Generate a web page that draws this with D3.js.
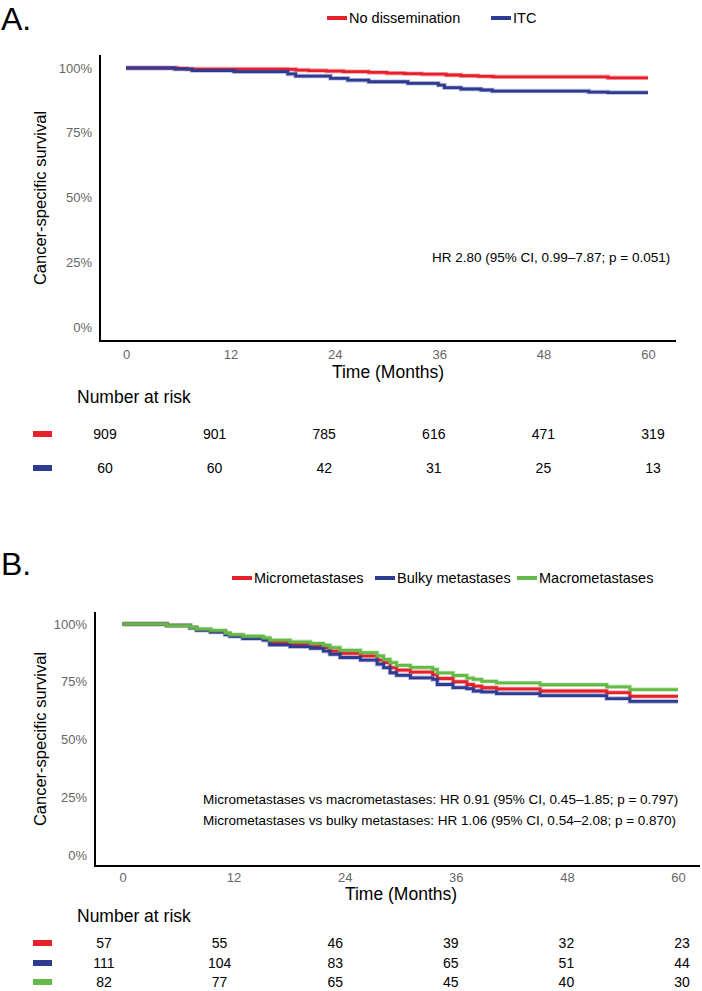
<!DOCTYPE html>
<html>
  <head>
    <title>Cancer-specific survival</title>
    <style>
      body {
        margin: 0px;
        overflow: hidden;
        background: #fff;
      }
      text {
        font-family: "Liberation Sans", Arial, sans-serif;
      }
    </style>
    <script src="https://d3js.org/d3.v7.min.js"></script>
  </head>
  <body>

    <svg width="702" height="991"></svg>

    <script>
      // shared axis values
      const monthTicks = [0, 12, 24, 36, 48, 60];
      const survTicks = [0, 0.25, 0.5, 0.75, 1];

      // panel A: survival steps (months, survival)
      const aGroups = ['No dissemination', 'ITC'];
      const aNoDissTime = [0, 5.9, 7.0, 18.6, 19.5, 21, 23, 25, 27.9, 30, 32, 34, 36.8, 38.5, 40.5, 42.2, 55.4];
      const aNoDissSurv = [1, 0.998, 0.996, 0.995, 0.992, 0.990, 0.988, 0.986, 0.983, 0.980, 0.978, 0.976, 0.973, 0.970, 0.968, 0.966, 0.962];
      const aItcTime = [0, 5.6, 7.6, 12.4, 18.6, 19.5, 23.5, 25.5, 27.9, 32.4, 35.9, 36.6, 38.5, 40.8, 42.1, 53.2, 55.4];
      const aItcSurv = [1, 0.996, 0.990, 0.986, 0.977, 0.969, 0.960, 0.953, 0.947, 0.941, 0.934, 0.924, 0.919, 0.915, 0.911, 0.907, 0.905];
      const aRiskNoDiss = [909, 901, 785, 616, 471, 319];
      const aRiskItc = [60, 60, 42, 31, 25, 13];
      const aNotes = ['HR 2.80 (95% CI, 0.99\u20137.87; p = 0.051)'];

      // panel B
      const bGroups = ['Micrometastases', 'Bulky metastases', 'Macrometastases'];
      const bStepTime = [0, 4.8, 7.3, 8.0, 9.5, 11.1, 11.6, 13.0, 15.2, 15.9, 18.1, 20.3, 21.7, 22.4, 23.5, 25.7,
        27.5, 28.2, 28.9, 29.6, 31.1, 33.5, 34.0, 35.7, 37.2, 37.9, 38.8, 40.4, 45.1, 52.3, 54.8];
      const bMicroSurv = [1, 0.993, 0.985, 0.976, 0.969, 0.958, 0.951, 0.942, 0.935, 0.920, 0.912, 0.906, 0.898, 0.883, 0.873, 0.862,
        0.844, 0.833, 0.811, 0.800, 0.792, 0.781, 0.764, 0.750, 0.738, 0.731, 0.724, 0.719, 0.710, 0.703, 0.687];
      const bBulkySurv = [1, 0.993, 0.983, 0.973, 0.965, 0.954, 0.947, 0.937, 0.930, 0.910, 0.902, 0.895, 0.883, 0.869, 0.855, 0.844,
        0.826, 0.811, 0.789, 0.778, 0.767, 0.760, 0.738, 0.725, 0.720, 0.710, 0.706, 0.699, 0.690, 0.677, 0.665];
      const bMacroSurv = [1, 0.993, 0.986, 0.978, 0.972, 0.961, 0.954, 0.947, 0.940, 0.930, 0.923, 0.916, 0.908, 0.898, 0.886, 0.876,
        0.862, 0.847, 0.833, 0.821, 0.812, 0.803, 0.788, 0.777, 0.766, 0.760, 0.752, 0.745, 0.737, 0.728, 0.716];
      const bRiskMicro = [57, 55, 46, 39, 32, 23];
      const bRiskBulky = [111, 104, 83, 65, 51, 44];
      const bRiskMacro = [82, 77, 65, 45, 40, 30];
      const bNotes = [
        'Micrometastases vs macrometastases: HR 0.91 (95% CI, 0.45\u20131.85; p = 0.797)',
        'Micrometastases vs bulky metastases: HR 1.06 (95% CI, 0.54\u20132.08; p = 0.870)'
      ];

      const colors = { red: '#e8202a', blue: '#2e3b93', green: '#64ba46' };

      const svg = d3.select('svg');

      const panels = [
        {
          label: 'A.', labelY: 30,
          legendY: 18, legendX: [327, 491],
          axisX: 100, axisTop: 55, axisBottom: 341, axisRight: 676,
          x0: 126, x1: 648, y0: 327, y1: 68,
          tickY: 354, xTitle: [388, 372], yTitle: [40, 198],
          notesX: 432, notesY: [257], notes: aNotes,
          riskTitleY: 397, riskY: [434, 468], riskX: [105, 653],
          series: [
            { name: aGroups[0], color: colors.red, time: aNoDissTime, surv: aNoDissSurv, risk: aRiskNoDiss },
            { name: aGroups[1], color: colors.blue, time: aItcTime, surv: aItcSurv, risk: aRiskItc }
          ]
        },
        {
          label: 'B.', labelY: 575,
          legendY: 578, legendX: [232, 375, 517],
          axisX: 95, axisTop: 612, axisBottom: 866, axisRight: 700,
          x0: 122.5, x1: 678, y0: 855, y1: 624,
          tickY: 877, xTitle: [401, 894], yTitle: [40, 739],
          notesX: 203, notesY: [799, 820], notes: bNotes,
          riskTitleY: 916, riskY: [943, 963, 982], riskX: [104, 682],
          series: [
            { name: bGroups[0], color: colors.red, time: bStepTime, surv: bMicroSurv, risk: bRiskMicro },
            { name: bGroups[1], color: colors.blue, time: bStepTime, surv: bBulkySurv, risk: bRiskBulky },
            { name: bGroups[2], color: colors.green, time: bStepTime, surv: bMacroSurv, risk: bRiskMacro }
          ]
        }
      ];

      const drawPanel = p => {
        const g = svg.append('g');

        const xScale = d3.scaleLinear().domain([0, 60]).range([p.x0, p.x1]);
        const yScale = d3.scaleLinear().domain([0, 1]).range([p.y0, p.y1]);
        const riskScale = d3.scaleLinear().domain([0, 60]).range(p.riskX);

        g.append('text')
          .attr('x', 1).attr('y', p.labelY)
          .attr('font-size', 32)
          .text(p.label);

        // legend
        p.series.forEach((s, i) => {
          const lx = p.legendX[i];
          g.append('line')
            .attr('x1', lx).attr('x2', lx + 20)
            .attr('y1', p.legendY).attr('y2', p.legendY)
            .attr('stroke', s.color).attr('stroke-width', 4);
          g.append('text')
            .attr('x', lx + 22).attr('y', p.legendY)
            .attr('dy', '0.35em')
            .attr('font-size', 14.5)
            .text(s.name);
        });

        // axes: no tick marks, labels only
        const yAxis = d3.axisLeft(yScale)
          .tickValues(survTicks)
          .tickFormat(d3.format('.0%'))
          .tickSize(0)
          .tickPadding(8);
        g.append('g')
          .attr('transform', `translate(${p.axisX},0)`)
          .call(yAxis)
          .call(a => a.select('.domain').remove())
          .call(a => a.selectAll('text')
            .attr('font-family', '"Liberation Sans", Arial, sans-serif')
            .attr('font-size', 13).attr('fill', '#666'));

        const xAxis = d3.axisBottom(xScale)
          .tickValues(monthTicks)
          .tickSize(0)
          .tickPadding(0);
        g.append('g')
          .attr('transform', `translate(0,${p.tickY})`)
          .call(xAxis)
          .call(a => a.select('.domain').remove())
          .call(a => a.selectAll('text')
            .attr('dy', '0.35em')
            .attr('font-family', '"Liberation Sans", Arial, sans-serif')
            .attr('font-size', 13).attr('fill', '#666'));

        g.append('line')
          .attr('x1', p.axisX).attr('x2', p.axisX)
          .attr('y1', p.axisTop).attr('y2', p.axisBottom)
          .attr('stroke', '#000').attr('stroke-width', 2);
        g.append('line')
          .attr('x1', p.axisX - 1).attr('x2', p.axisRight)
          .attr('y1', p.axisBottom).attr('y2', p.axisBottom)
          .attr('stroke', '#000').attr('stroke-width', 2);

        g.append('text')
          .attr('x', p.xTitle[0]).attr('y', p.xTitle[1])
          .attr('dy', '0.35em')
          .attr('text-anchor', 'middle')
          .attr('font-size', 17.5)
          .text('Time (Months)');

        g.append('text')
          .attr('transform', `translate(${p.yTitle[0]},${p.yTitle[1]}) rotate(-90)`)
          .attr('dy', '0.35em')
          .attr('text-anchor', 'middle')
          .attr('font-size', 16.5)
          .text('Cancer-specific survival');

        // survival curves
        const line = d3.line()
          .x(d => xScale(d[0]))
          .y(d => yScale(d[1]))
          .curve(d3.curveStepAfter);

        p.series.forEach(s => {
          const pts = s.time.map((t, i) => [t, s.surv[i]]);
          pts.push([60, s.surv[s.surv.length - 1]]);
          g.append('path')
            .datum(pts)
            .attr('fill', 'none')
            .attr('stroke', s.color)
            .attr('stroke-opacity', 0.35)
            .attr('stroke-width', 4.5)
            .attr('d', line);
          g.append('path')
            .datum(pts)
            .attr('fill', 'none')
            .attr('stroke', s.color)
            .attr('stroke-width', 2.8)
            .attr('d', line);
        });

        p.notes.forEach((n, i) => {
          g.append('text')
            .attr('x', p.notesX).attr('y', p.notesY[i])
            .attr('dy', '0.35em')
            .attr('font-size', 13.5)
            .text(n);
        });

        // number at risk table
        g.append('text')
          .attr('x', 77).attr('y', p.riskTitleY)
          .attr('dy', '0.35em')
          .attr('font-size', 17.5)
          .text('Number at risk');

        p.series.forEach((s, i) => {
          const ry = p.riskY[i];
          g.append('rect')
            .attr('x', 33).attr('y', ry - 3)
            .attr('width', 19).attr('height', 6)
            .attr('fill', s.color);
          g.selectAll(null)
            .data(s.risk)
            .enter().append('text')
              .attr('x', (d, j) => riskScale(monthTicks[j]))
              .attr('y', ry)
              .attr('dy', '0.35em')
              .attr('text-anchor', 'middle')
              .attr('font-size', 14)
              .text(d => d);
        });
      };

      panels.forEach(drawPanel);
    </script>
  </body>
</html>
